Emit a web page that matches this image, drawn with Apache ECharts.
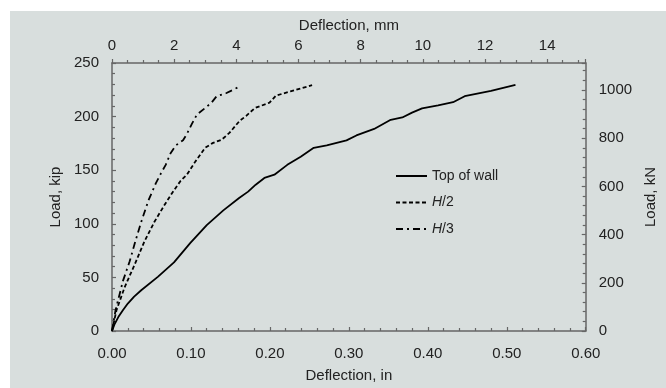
<!DOCTYPE html>
<html>
<head>
<meta charset="utf-8">
<script src="https://cdn.jsdelivr.net/npm/echarts@6/dist/echarts.min.js"></script>
<style>
html,body{margin:0;padding:0;background:#ffffff;}
#bg{position:absolute;left:10px;top:11px;width:656px;height:377px;background:#d8dedd;}
#chart{position:absolute;left:0;top:0;width:666px;height:388px;}
</style>
</head>
<body>
<div id="bg"></div>
<div id="chart"></div>
<script>
// Deflection (in) and load (kip)
const topWallX = [0, 0.003, 0.008, 0.014, 0.020, 0.028, 0.037, 0.058, 0.0785, 0.099, 0.120, 0.141, 0.161, 0.1724, 0.182, 0.193, 0.2057, 0.222, 0.239, 0.2555, 0.272, 0.297, 0.3095, 0.332, 0.353, 0.3677, 0.380, 0.3927, 0.413, 0.432, 0.4467, 0.480, 0.511];
const topWallY = [0, 6, 13, 19.5, 25.6, 32, 38, 50.5, 64, 81.9, 98.7, 112.5, 124, 130, 136.5, 142.8, 145.8, 155, 162.6, 170.9, 173.2, 177.8, 182.4, 188.5, 197, 199.2, 203.7, 207.7, 210.4, 213.4, 219, 224, 229.6];
const h2X = [0, 0.0057, 0.016, 0.0287, 0.041, 0.0536, 0.066, 0.0764, 0.0868, 0.095, 0.1055, 0.118, 0.128, 0.139, 0.149, 0.1616, 0.170, 0.181, 0.1995, 0.2077, 0.226, 0.2534];
const h2Y = [0, 19.5, 40.8, 62, 83.4, 101.7, 117, 129, 140, 146, 158, 171, 175.5, 178.5, 185, 196, 200.7, 208, 213, 219.6, 223.5, 229.3];
const h3X = [0, 0.0045, 0.014, 0.0224, 0.0295, 0.037, 0.046, 0.0556, 0.062, 0.068, 0.074, 0.0806, 0.090, 0.095, 0.101, 0.1076, 0.118, 0.126, 0.1325, 0.145, 0.1616];
const h3Y = [0, 19.5, 47, 65, 83.4, 101.7, 121.5, 138, 147, 155, 165.6, 173, 178, 184, 193, 202, 208, 213, 219, 222, 228];
const seriesNames = ['Top of wall', 'H/2', 'H/3'];
const xTickLabelsIn = ['0.00','0.10','0.20','0.30','0.40','0.50','0.60'];

const IN_TO_MM = 25.4, KIP_TO_KN = 4.44822;
const FONT = '"Liberation Sans", Arial, sans-serif';
const AX = '#666666', TXT = '#222222';
const FS = 15;

function pairs(xs, ys){ return xs.map((x,i)=>[x, ys[i]]); }

const chart = echarts.init(document.getElementById('chart'), null, {renderer:'canvas'});
const tick = (inside) => ({show:true, inside:inside, length:4, lineStyle:{color:AX, width:1.2}});
const minor = (n) => ({show:true, splitNumber:n, length:3, lineStyle:{color:AX, width:1.2}});
const baseAxis = (extra) => Object.assign({
  type:'value',
  axisLine:{show:true, onZero:false, lineStyle:{color:AX, width:1.5}},
  splitLine:{show:false},
  nameTextStyle:{color:TXT, fontSize:FS, fontFamily:FONT},
  nameLocation:'middle'
}, extra);

chart.setOption({
  animation:false,
  backgroundColor:'transparent',
  textStyle:{fontFamily:FONT},
  grid:{left:112, right:73, top:63, bottom:52, containLabel:false},
  xAxis:[
    baseAxis({position:'bottom', min:0, max:0.6, interval:0.1, name:'Deflection, in', nameGap:37,
      axisTick:tick(true), minorTick:minor(5),
      axisLabel:{color:TXT, fontSize:FS, fontFamily:FONT, margin:15, formatter:(v)=>{const i=Math.round(v*10); return xTickLabelsIn[i]!==undefined? xTickLabelsIn[i] : '';}}}),
    baseAxis({position:'top', min:0, max:0.6*IN_TO_MM, interval:2, name:'Deflection, mm', nameGap:28,
      axisTick:tick(false), minorTick:minor(4),
      axisLabel:{color:TXT, fontSize:FS, fontFamily:FONT, margin:10, showMaxLabel:false}})
  ],
  yAxis:[
    baseAxis({position:'left', min:0, max:250, interval:50, name:'Load, kip', nameGap:49,
      axisTick:tick(true), minorTick:minor(5),
      axisLabel:{color:TXT, fontSize:FS, fontFamily:FONT, margin:13}}),
    baseAxis({position:'right', min:0, max:250*KIP_TO_KN, interval:200, name:'Load, kN', nameGap:52,
      axisTick:tick(true), minorTick:minor(5),
      axisLabel:{color:TXT, fontSize:FS, fontFamily:FONT, margin:13, showMaxLabel:false, formatter:(v)=>String(Math.round(v))}})
  ],
  legend:{
    orient:'vertical', left:395, top:169, padding:0, itemWidth:31, itemHeight:14, itemGap:12.5,
    data:seriesNames,
    itemStyle:{opacity:0},
    textStyle:{color:TXT, fontSize:14, fontFamily:FONT, rich:{i:{fontStyle:'italic', fontSize:14, color:TXT, fontFamily:FONT}}},
    formatter:(n)=> n.charAt(0)==='H' ? '{i|H}' + n.slice(1) : n
  },
  series:[
    {name:seriesNames[0], type:'line', xAxisIndex:0, yAxisIndex:0, data:pairs(topWallX, topWallY), symbol:'none',
      lineStyle:{color:'#000', width:1.8, type:'solid'}, itemStyle:{color:'#000'}},
    {name:seriesNames[1], type:'line', xAxisIndex:0, yAxisIndex:0, data:pairs(h2X, h2Y), symbol:'none',
      lineStyle:{color:'#000', width:1.8, type:[4,2.5]}, itemStyle:{color:'#000'}},
    {name:seriesNames[2], type:'line', xAxisIndex:0, yAxisIndex:0, data:pairs(h3X, h3Y), symbol:'none',
      lineStyle:{color:'#000', width:1.8, type:[7,4,2,4]}, itemStyle:{color:'#000'}}
  ]
});
</script>
</body>
</html>
